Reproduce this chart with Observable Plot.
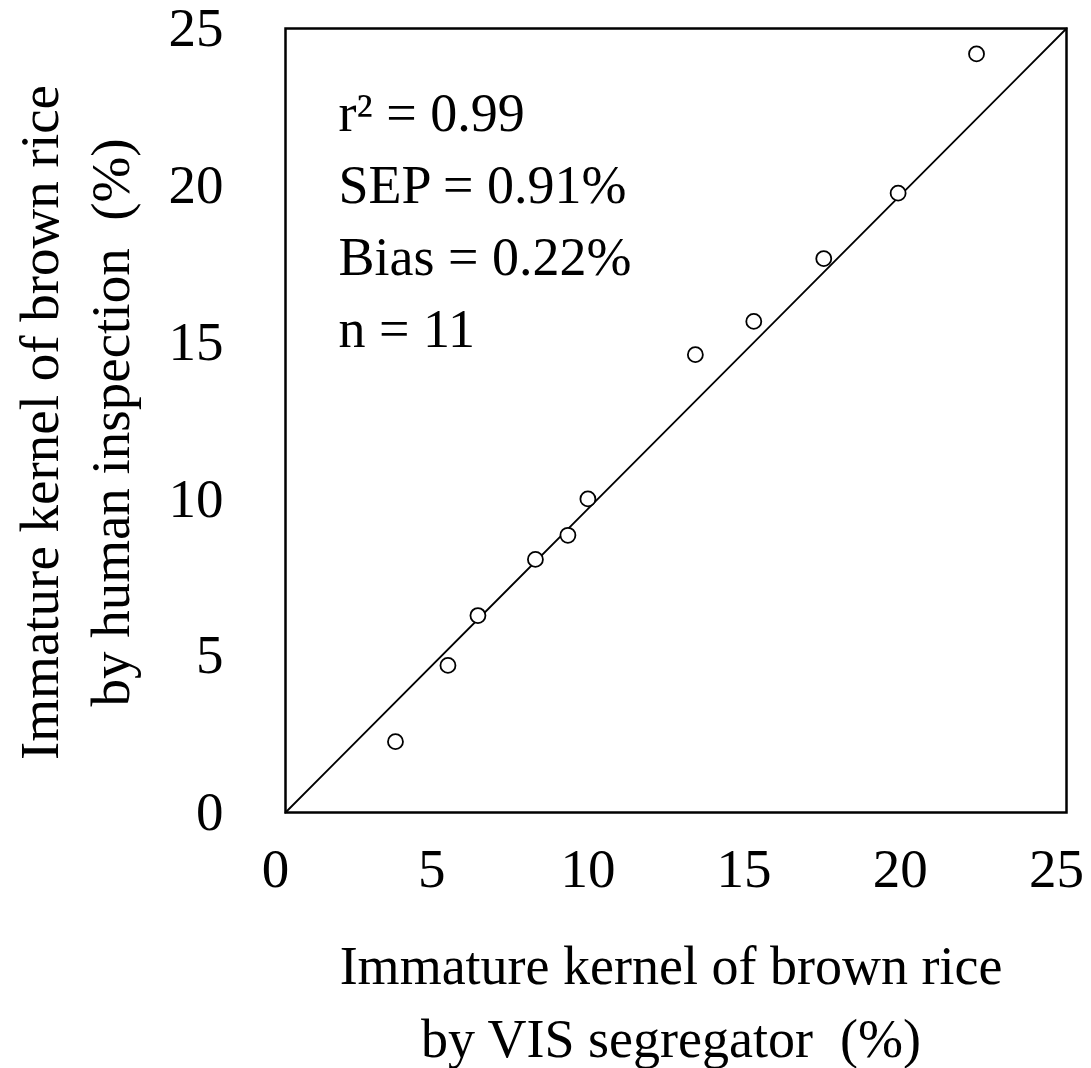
<!DOCTYPE html>
<html>
<head>
<meta charset="utf-8">
<script src="https://cdn.jsdelivr.net/npm/d3@7"></script>
<script src="https://cdn.jsdelivr.net/npm/@observablehq/plot@0.6"></script>
<style>
  html, body { margin: 0; padding: 0; background: #fff; }
  #chart svg { display: block; }
</style>
</head>
<body>
<div id="chart"></div>
<script>
// Immature kernel (%) : VIS segregator (x) vs human inspection (y)
const visSegregator = [3.52, 5.20, 6.16, 8.00, 9.04, 9.68, 13.12, 14.99, 17.23, 19.61, 22.12];
const humanInspection = [2.26, 4.69, 6.28, 8.07, 8.84, 10.00, 14.60, 15.66, 17.66, 19.75, 24.19];
const tickValues = [0, 5, 10, 15, 20, 25];
const diagonal = [0, 25];
const statsLines = ["r² = 0.99", "SEP = 0.91%", "Bias = 0.22%", "n = 11"];
const xTitle = ["Immature kernel of brown rice", "by VIS segregator  (%)"];
const yTitle = ["Immature kernel of brown rice", "by human inspection  (%)"];

const points = visSegregator.map((x, i) => ({x, y: humanInspection[i]}));
const diagLine = diagonal.map(v => ({x: v, y: v}));

const FONT = "'Liberation Serif', 'Times New Roman', serif";

const chart = Plot.plot({
  width: 1091,
  height: 1068,
  marginLeft: 285,
  marginRight: 25,
  marginTop: 28,
  marginBottom: 256,
  style: {fontFamily: FONT, fontSize: "55px", color: "#000", background: "#fff"},
  x: {domain: [0, 25], ticks: tickValues},
  y: {domain: [0, 25], ticks: tickValues},
  marks: [
    Plot.axisX({ticks: tickValues, tickSize: 0, tickPadding: 35, dx: -10, fontSize: 55, label: null, tickFormat: d => String(d)}),
    Plot.axisY({ticks: tickValues, tickSize: 0, tickPadding: 62, fontSize: 55, label: null, tickFormat: d => String(d)}),
    Plot.line(diagLine, {x: "x", y: "y", stroke: "#000", strokeWidth: 1.8}),
    Plot.dot(points, {x: "x", y: "y", r: 7.5, stroke: "#000", strokeWidth: 1.8, fill: "#fff"}),
    Plot.frame({stroke: "#000", strokeWidth: 2.5}),
    Plot.text([statsLines.join("\n")], {
      frameAnchor: "top-left", textAnchor: "start", lineAnchor: "top",
      lineHeight: 1.33, dx: 53, dy: 52, fontSize: 54, fill: "#000"
    }),
    Plot.text([xTitle.join("\n")], {
      frameAnchor: "bottom", textAnchor: "middle", lineAnchor: "middle",
      lineHeight: 1.35, dy: 185, dx: -5, fontSize: 54, fill: "#000"
    }),
    Plot.text([yTitle.join("\n")], {
      frameAnchor: "left", textAnchor: "middle", lineAnchor: "middle", rotate: -90,
      lineHeight: 1.3, dx: -215, dy: 2, fontSize: 55, fill: "#000"
    })
  ]
});
document.getElementById("chart").appendChild(chart);
</script>
</body>
</html>
